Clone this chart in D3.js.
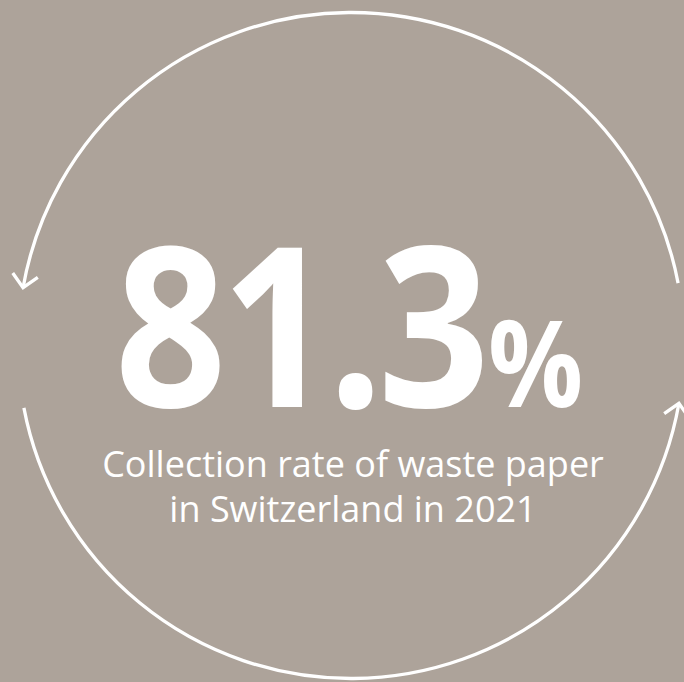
<!DOCTYPE html>
<html>
<head>
<meta charset="utf-8">
<script src="https://cdn.jsdelivr.net/npm/d3@7"></script>
<style>
  html, body { margin: 0; padding: 0; background: #ada39a; }
  svg { display: block; }
</style>
</head>
<body>
<svg id="chart" width="684" height="682"></svg>
<script>
// Headline figure and caption
const rateValue = 81.3;
const rateUnit = "%";
const captionLines = ["Collection rate of waste paper", "in Switzerland in 2021"];

// Two recycling arcs (degrees, 0 = top, clockwise); arrow drawn at "end"
const arcNames = ["upper", "lower"];
const arcStarts = [79.2, 259.2];
const arcEnds = [-80, 100];

const width = 684, height = 682;
const cx = 351, cy = 345.5, radius = 333;
const ink = "#ffffff";

const svg = d3.select("#chart");
const g = svg.append("g").attr("transform", `translate(${cx},${cy})`);

const rad = d3.scaleLinear().domain([0, 360]).range([0, 2 * Math.PI]);

arcNames.forEach((name, i) => {
  const a0 = rad(arcStarts[i]), a1 = rad(arcEnds[i]);
  const p = d3.path();
  p.arc(0, 0, radius, a0 - Math.PI / 2, a1 - Math.PI / 2, a1 < a0);
  g.append("path")
    .attr("class", "arc-" + name)
    .attr("d", p.toString())
    .attr("fill", "none")
    .attr("stroke", ink)
    .attr("stroke-width", 3.3)
    .attr("stroke-linecap", "butt");

  // arrowhead at the end of the arc, pointing along the direction of travel
  const tipX = radius * Math.sin(a1), tipY = -radius * Math.cos(a1);
  const dir = a1 < a0 ? -1 : 1;
  const tx = Math.cos(a1) * dir, ty = Math.sin(a1) * dir;
  const len = 18, spread = Math.PI / 4;
  const back = Math.atan2(-ty, -tx);
  const pts = [
    [tipX + len * Math.cos(back + spread), tipY + len * Math.sin(back + spread)],
    [tipX, tipY],
    [tipX + len * Math.cos(back - spread), tipY + len * Math.sin(back - spread)]
  ];
  g.append("path")
    .attr("d", d3.line()(pts))
    .attr("fill", "none")
    .attr("stroke", ink)
    .attr("stroke-width", 3.3)
    .attr("stroke-linejoin", "miter")
    .attr("stroke-linecap", "butt");
});

// Big number with a smaller percent sign, set in a narrow bold cut
const bigG = svg.append("g")
  .attr("transform", "translate(349,407) scale(0.88,1)");
const big = bigG.append("text")
  .attr("x", 0)
  .attr("y", 0)
  .attr("text-anchor", "middle")
  .attr("fill", ink)
  .attr("font-family", "'Open Sans', sans-serif")
  .attr("font-weight", 700);
big.append("tspan")
  .attr("font-size", 222)
  .attr("letter-spacing", -6)
  .text(d3.format(".1f")(rateValue));
big.append("tspan")
  .attr("font-size", 120)
  .attr("dx", 4)
  .text(rateUnit);

// Caption
svg.append("g")
  .selectAll("text")
  .data(captionLines)
  .join("text")
  .attr("x", 353)
  .attr("y", (d, i) => 477 + i * 45)
  .attr("text-anchor", "middle")
  .attr("fill", ink)
  .attr("font-family", "'Open Sans', sans-serif")
  .attr("font-weight", 400)
  .attr("font-size", 36)
  .text(d => d);
</script>
</body>
</html>
